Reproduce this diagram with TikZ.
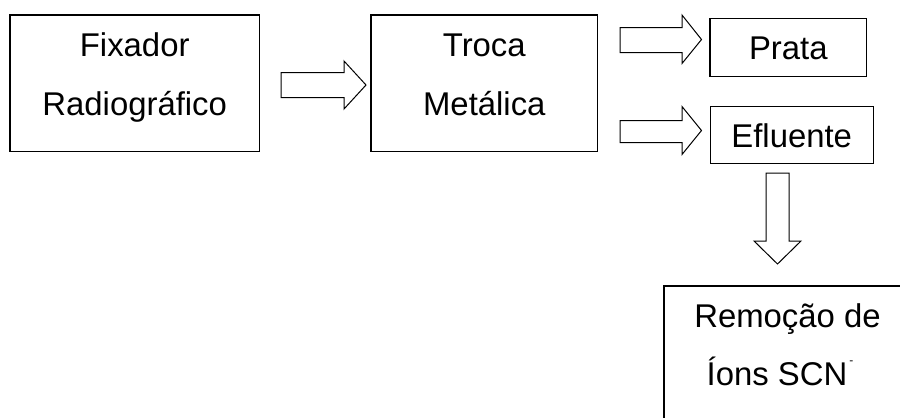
\documentclass[tikz,border=0pt]{standalone}
\usepackage{fontspec}
\setmainfont{Liberation Sans}
\begin{document}
\begin{tikzpicture}[x=1bp,y=-1bp,
  box/.style={draw,line width=1.1bp,rectangle,inner sep=0pt},
  lbl/.style={anchor=base,inner sep=0pt,font=\fontsize{33}{40}\selectfont},
  barrow/.style={draw,line width=1bp,line join=miter}]
\useasboundingbox (0,0) rectangle (900,417);
% boxes
\node[box,minimum width=249.3bp,minimum height=136.7bp] (fix) at (134.7,83.3) {};
\node[box,minimum width=226.7bp,minimum height=136.7bp] (troca) at (484.3,83.3) {};
\node[box,minimum width=156.7bp,minimum height=58bp] (prata) at (788.3,47.2) {};
\node[box,minimum width=163.3bp,minimum height=57.3bp] (eflu) at (791.7,135.2) {};
\node[box,minimum width=267bp,minimum height=164bp] (remo) at (797.5,368) {};
% texts
\node[lbl] (t1a) at (fix.center |- 0,56) {Fixador};
\node[lbl] (t1b) at (fix.center |- 0,115.5) {Radiográfico};
\node[lbl] (t2a) at (troca.center |- 0,56) {Troca};
\node[lbl] (t2b) at (troca.center |- 0,115) {Metálica};
\node[lbl] (t3) at (prata.center |- 0,59) {Prata};
\node[lbl] (t4) at (eflu.center |- 0,147) {Efluente};
\node[lbl] (t5a) at (787.5,327) {Remoção de};
\node[lbl] (t5b) at (780,385) {Íons SCN\hspace{2bp}\raisebox{20.5bp}{\fontsize{12}{14}\selectfont -}};
% block arrows
\draw[barrow] (281,72.5) -- (344,72.5) -- (344,61) -- (366,85) -- (344,109) -- (344,97.5) -- (281,97.5) -- cycle;
\draw[barrow] (620,27.5) -- (682,27.5) -- (682,15) -- (701.5,39.5) -- (682,63.5) -- (682,52.5) -- (620,52.5) -- cycle;
\draw[barrow] (620,120.5) -- (682,120.5) -- (682,106.5) -- (701.5,130.5) -- (682,154.5) -- (682,142.5) -- (620,142.5) -- cycle;
\draw[barrow] (766,173) -- (789,173) -- (789,241) -- (801,241) -- (777.5,264) -- (754,241) -- (766,241) -- cycle;
\end{tikzpicture}
\end{document}
